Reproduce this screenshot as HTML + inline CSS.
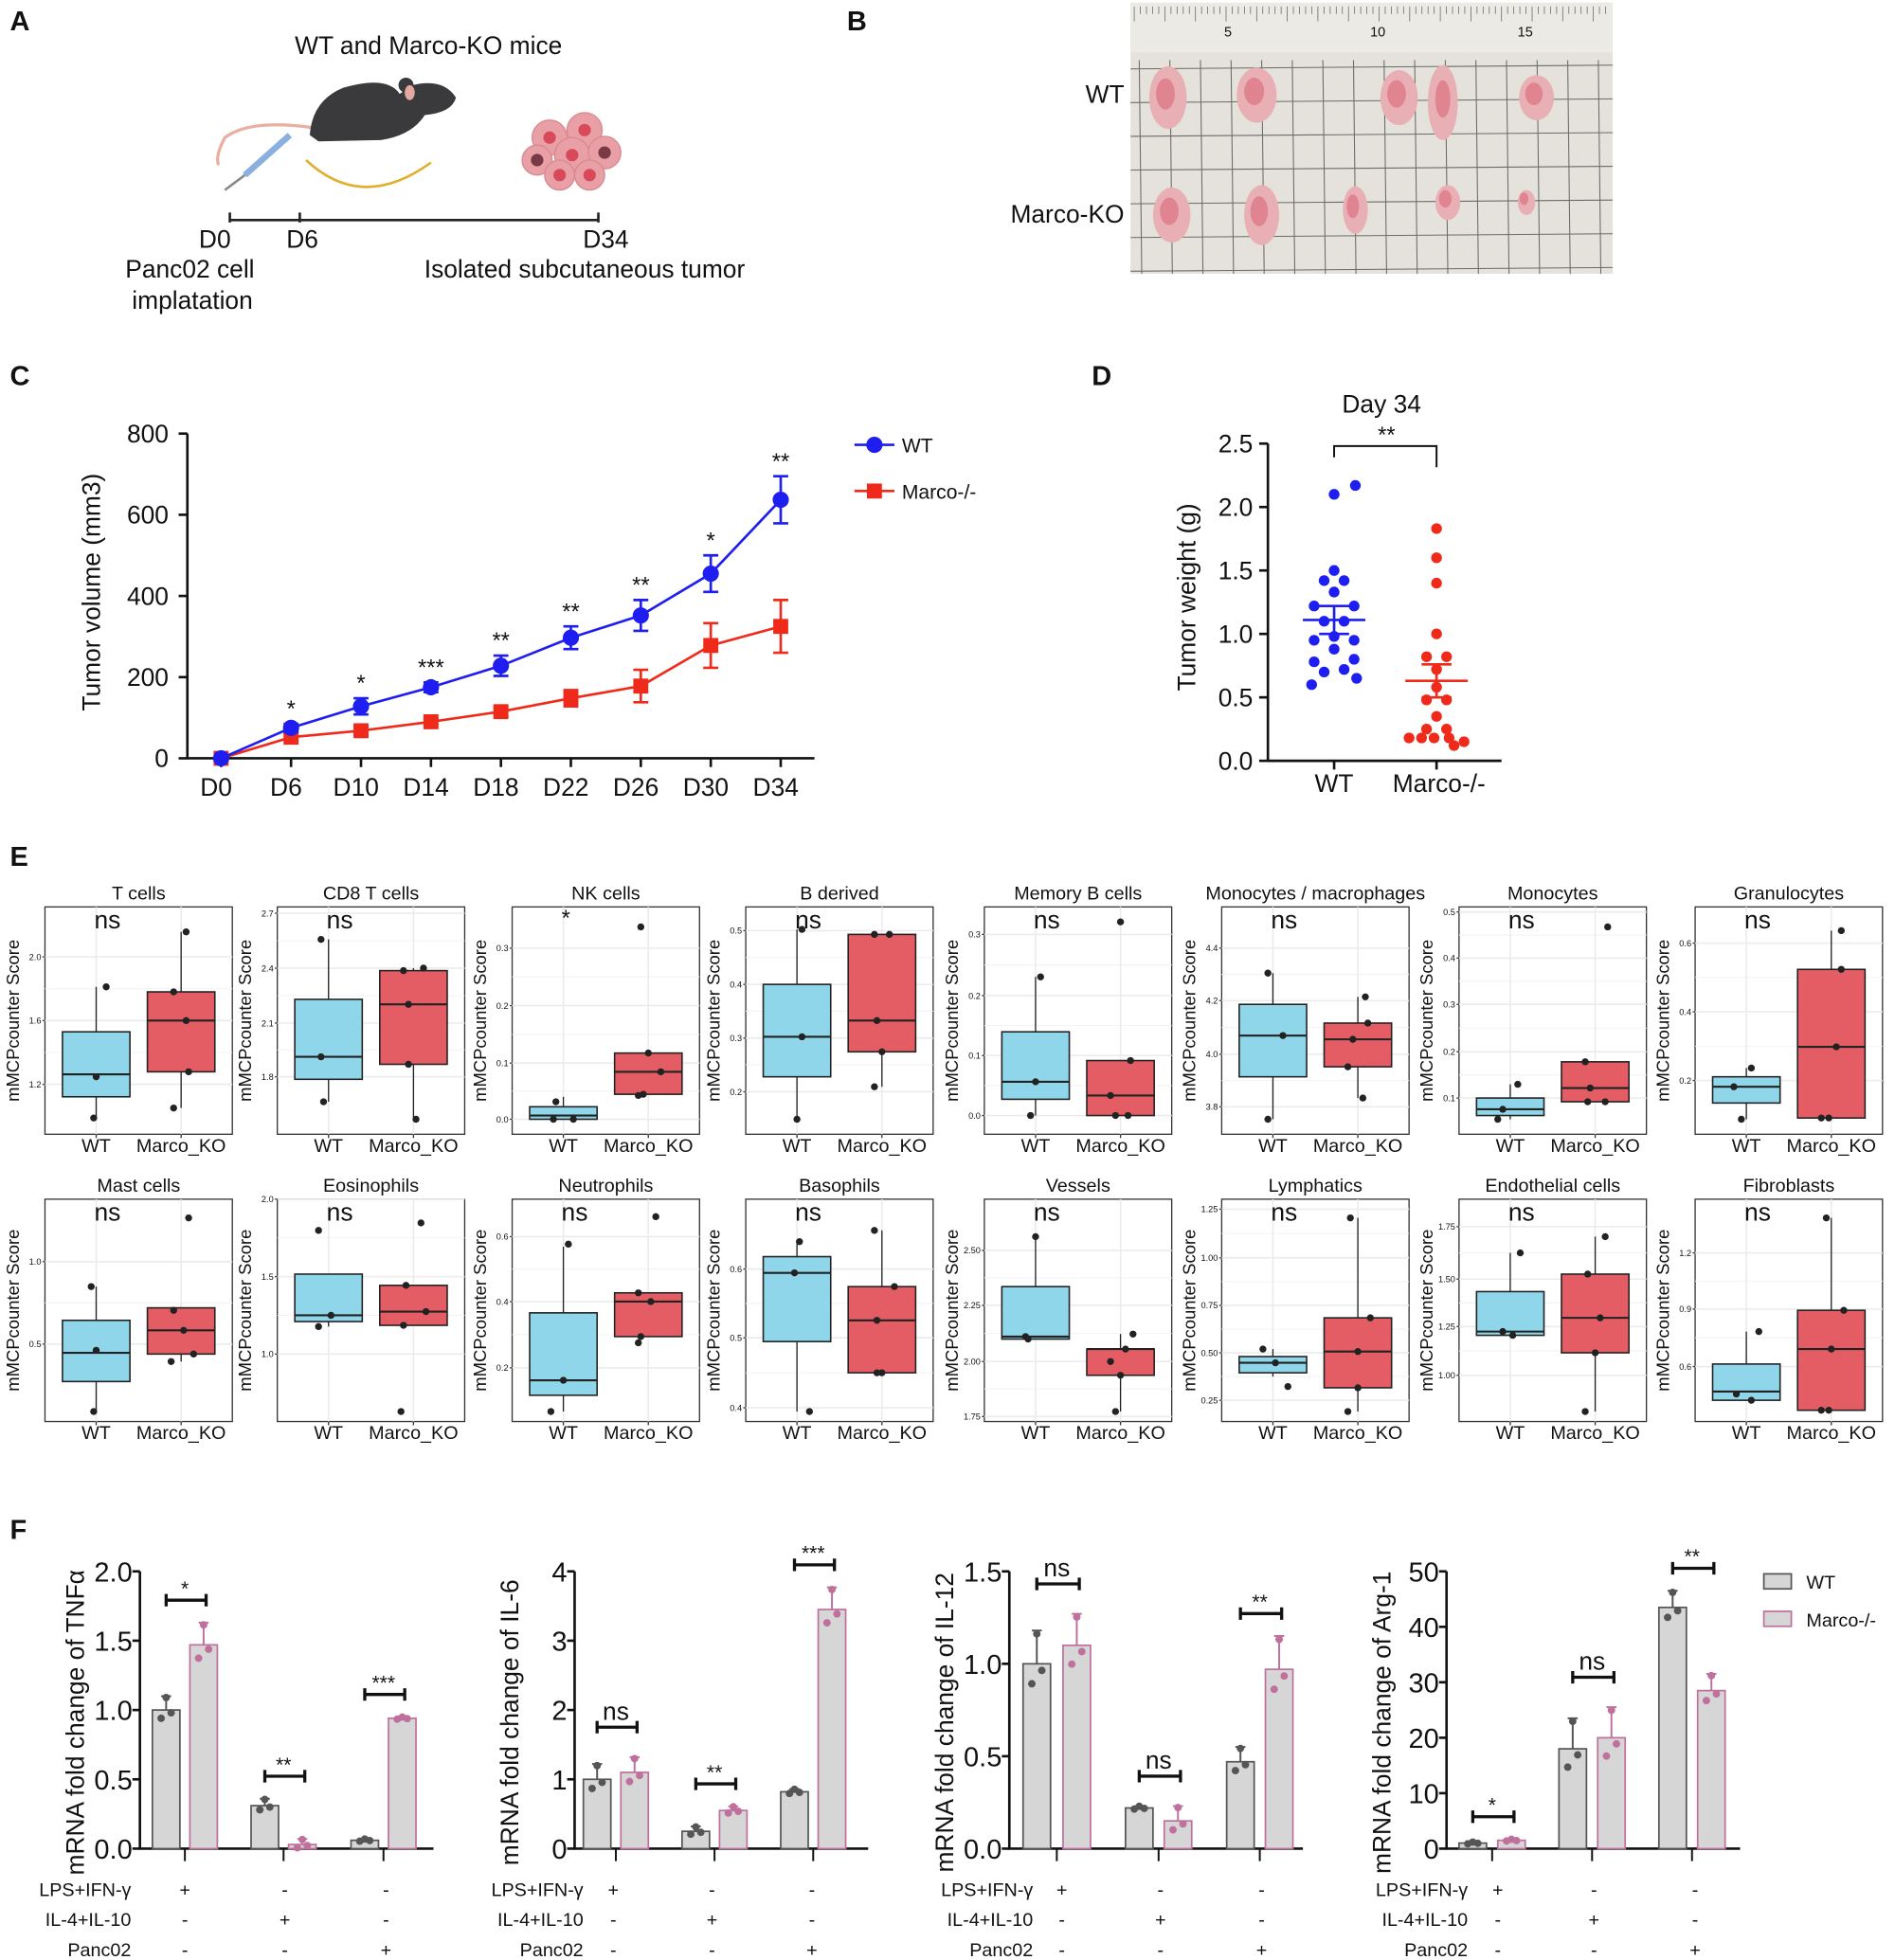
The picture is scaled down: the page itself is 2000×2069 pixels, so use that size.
<!DOCTYPE html>
<html><head><meta charset="utf-8"><style>
html,body{margin:0;padding:0;background:#fff}
svg{display:block}
text{font-family:"Liberation Sans Narrow","Liberation Sans",sans-serif;fill:#111}
</style></head><body>
<svg id="s" width="2000" height="2069" viewBox="0 0 1517 1569" xmlns="http://www.w3.org/2000/svg">
<rect width="1517" height="1569" fill="#fff"/>
<!-- Panel labels -->
<g font-weight="bold" style="font-family:'Liberation Sans',sans-serif" font-size="22">
<text x="8" y="24">A</text><text x="678" y="24">B</text><text x="8" y="308">C</text><text x="874" y="308">D</text><text x="8" y="693">E</text><text x="8" y="1232">F</text>
</g>
<!-- Panel A -->
<text x="343" y="43" font-size="20" text-anchor="middle">WT and Marco-KO mice</text>
<path d="M250 102 Q200 95 180 110 Q172 125 175 132" stroke="#e8b0a0" stroke-width="2.5" fill="none"/>
<path d="M248 108 Q250 80 275 70 Q310 60 320 75 L330 68 Q355 62 365 78 Q362 90 340 92 Q330 108 305 112 L255 113 Z" fill="#3a3a3c"/>
<circle cx="325" cy="68" r="6" fill="#3a3a3c"/><ellipse cx="328" cy="74" rx="4" ry="6" fill="#e3a9a0"/>
<path d="M232 108 L196 140" stroke="#8ab0e0" stroke-width="5"/><path d="M196 140 L180 152" stroke="#888" stroke-width="2"/>
<path d="M245 128 Q290 170 345 130" stroke="#e0b030" stroke-width="2" fill="none"/>
<g fill="#e8a0a6" stroke="#d88890"><circle cx="440" cy="110" r="14"/><circle cx="468" cy="104" r="14"/><circle cx="458" cy="124" r="14"/><circle cx="484" cy="122" r="13"/><circle cx="430" cy="128" r="12"/><circle cx="448" cy="140" r="12"/><circle cx="472" cy="140" r="12"/></g>
<g fill="#d84a5a"><circle cx="440" cy="110" r="5"/><circle cx="468" cy="104" r="5"/><circle cx="458" cy="124" r="5"/><circle cx="448" cy="140" r="5"/><circle cx="472" cy="140" r="5"/></g>
<circle cx="484" cy="122" r="5" fill="#7a3a44"/><circle cx="430" cy="128" r="5" fill="#7a3a44"/>
<path d="M184 170 V178 M184 176 H479 M240 170 V178 M479 170 V178" stroke="#222" stroke-width="2"/>
<g font-size="20"><text x="172" y="198" text-anchor="middle">D0</text><text x="242" y="198" text-anchor="middle">D6</text><text x="485" y="198" text-anchor="middle">D34</text>
<text x="152" y="222" text-anchor="middle">Panc02 cell</text><text x="154" y="247" text-anchor="middle">implatation</text><text x="468" y="222" text-anchor="middle">Isolated subcutaneous tumor</text></g>
<!-- Panel B photo -->
<rect x="905" y="2" width="386" height="217" fill="#e4e2da"/>
<rect x="905" y="2" width="386" height="40" fill="#eceae4"/>
<g id="grid" stroke="#6a6a6a" stroke-width="0.8"></g>
<g font-size="20"><text x="900" y="82" text-anchor="end">WT</text><text x="900" y="178" text-anchor="end">Marco-KO</text></g>
<g id="tum"></g>
<!-- C -->
<g id="C"></g><g id="D"></g><g id="E"></g><g id="F"></g>
</svg>
<script>
const NS="http://www.w3.org/2000/svg";
function el(p,t,a,txt){const e=document.createElementNS(NS,t);for(const k in a)e.setAttribute(k,a[k]);if(txt!==undefined)e.textContent=txt;p.appendChild(e);return e;}
const S=document.getElementById('s');
// grid B
const G=document.getElementById('grid');
for(let x=912;x<1291;x+=24.5)el(G,'line',{x1:x,y1:48,x2:x+2,y2:219});
for(let y=55;y<219;y+=27)el(G,'line',{x1:905,y1:y,x2:1291,y2:y-3});
for(let x=908;x<1290;x+=4.9)el(G,'line',{x1:x,y1:5,x2:x,y2:(Math.round((x-908)/4.9)%5==0)?17:11,'stroke-width':0.6});
[[983,'5'],[1103,'10'],[1221,'15']].forEach(a=>el(G,'text',{x:a[0],y:29,'font-size':11,'text-anchor':'middle',stroke:'none'},a[1]));
const T=document.getElementById('tum');
[[935,78,15,25],[1006,76,16,22],[1083,82,12,30],[1120,78,15,22],[1230,78,14,18],[938,172,15,22],[1010,172,14,24],[1085,168,10,19],[1159,162,10,14],[1222,162,7,10]].forEach(t=>{el(T,'ellipse',{cx:t[0],cy:t[1],rx:t[2],ry:t[3],fill:'#e8b0b4'});el(T,'ellipse',{cx:t[0]-2,cy:t[1]-3,rx:t[2]*0.5,ry:t[3]*0.5,fill:'#d86878',opacity:0.6});});
// fix tumor x positions
T.children[4].setAttribute('cx',1155);T.children[5].setAttribute('cx',1155);
// ---------- C -------------
const C=document.getElementById('C');
el(C,'path',{d:'M150 347 V607 H652',stroke:'#111','stroke-width':2,fill:'none'});
[0,200,400,600,800].forEach(v=>{const y=607-v*0.325;el(C,'line',{x1:143,y1:y,x2:150,y2:y,stroke:'#111','stroke-width':2});el(C,'text',{x:135,y:y+7,'font-size':20,'text-anchor':'end'},v);});
const xs=[177,233,289,345,401,457,513,569,625],labs=['D0','D6','D10','D14','D18','D22','D26','D30','D34'];
xs.forEach((x,i)=>{el(C,'line',{x1:x,y1:607,x2:x,y2:614,stroke:'#111','stroke-width':2});el(C,'text',{x:x-4,y:637,'font-size':20,'text-anchor':'middle'},labs[i]);});
el(C,'text',{x:0,y:0,'font-size':20,'text-anchor':'middle',transform:'translate(80 474) rotate(-90)'},'Tumor volume (mm3)');
const wt=[0,75,128,175,228,297,352,455,637],we=[0,10,20,12,25,28,38,45,58],ko=[0,52,68,90,115,148,178,278,325],ke=[0,8,10,8,12,20,40,55,65];
const yv=v=>607-v*0.325;
function series(vals,err,col,sq){el(C,'polyline',{points:vals.map((v,i)=>xs[i]+','+yv(v)).join(' '),fill:'none',stroke:col,'stroke-width':2});
vals.forEach((v,i)=>{if(err[i]){el(C,'path',{d:`M${xs[i]} ${yv(v+err[i])}V${yv(v-err[i])}M${xs[i]-6} ${yv(v+err[i])}h12M${xs[i]-6} ${yv(v-err[i])}h12`,stroke:col,'stroke-width':2});}
if(sq)el(C,'rect',{x:xs[i]-6,y:yv(v)-6,width:12,height:12,fill:col});else el(C,'circle',{cx:xs[i],cy:yv(v),r:6.5,fill:col});});}
series(ko,ke,'#f02a1a',true);series(wt,we,'#1e1ef0',false);
['','*','*','***','**','**','**','*','**'].forEach((s,i)=>{if(s)el(C,'text',{x:xs[i],y:yv(wt[i]+we[i])-6,'font-size':18,'text-anchor':'middle'},s);});
el(C,'line',{x1:684,y1:356,x2:716,y2:356,stroke:'#1e1ef0','stroke-width':2});el(C,'circle',{cx:700,cy:356,r:6.5,fill:'#1e1ef0'});el(C,'text',{x:722,y:362,'font-size':16},'WT');
el(C,'line',{x1:684,y1:393,x2:716,y2:393,stroke:'#f02a1a','stroke-width':2});el(C,'rect',{x:694,y:387,width:12,height:12,fill:'#f02a1a'});el(C,'text',{x:722,y:399,'font-size':16},'Marco-/-');
// ---------- D -------------
const D=document.getElementById('D');
el(D,'path',{d:'M1015 355 V609 H1202',stroke:'#111','stroke-width':2,fill:'none'});
const yd=v=>609-v*101.6;
[0,0.5,1,1.5,2,2.5].forEach(v=>{el(D,'line',{x1:1008,y1:yd(v),x2:1015,y2:yd(v),stroke:'#111','stroke-width':2});el(D,'text',{x:1003,y:yd(v)+7,'font-size':20,'text-anchor':'end'},v.toFixed(1));});
el(D,'text',{x:0,y:0,'font-size':20,'text-anchor':'middle',transform:'translate(957 478) rotate(-90)'},'Tumor weight (g)');
el(D,'text',{x:1106,y:330,'font-size':20,'text-anchor':'middle'},'Day 34');
el(D,'path',{d:'M1068 366 V357 H1150 V374',stroke:'#111','stroke-width':1.5,fill:'none'});el(D,'text',{x:1110,y:354,'font-size':18,'text-anchor':'middle'},'**');
[[1068,1078],[1150,1150]].forEach(()=>{});
el(D,'line',{x1:1068,y1:609,x2:1068,y2:616,stroke:'#111','stroke-width':2});el(D,'line',{x1:1150,y1:609,x2:1150,y2:616,stroke:'#111','stroke-width':2});
el(D,'text',{x:1068,y:634,'font-size':20,'text-anchor':'middle'},'WT');el(D,'text',{x:1152,y:634,'font-size':20,'text-anchor':'middle'},'Marco-/-');
const wd=[[1085,2.17],[1068,2.1],[1068,1.5],[1060,1.42],[1076,1.42],[1068,1.33],[1052,1.22],[1084,1.22],[1060,1.1],[1076,1.1],[1052,0.95],[1084,0.95],[1068,0.88],[1052,0.78],[1084,0.8],[1060,0.7],[1076,0.72],[1050,0.6],[1086,0.65],[1068,0.98]];
wd.forEach(p=>el(D,'circle',{cx:p[0],cy:yd(p[1]),r:4.3,fill:'#1e1ef0'}));
const kd=[[1150,1.83],[1150,1.6],[1150,1.4],[1150,1.0],[1142,0.82],[1158,0.82],[1150,0.72],[1150,0.58],[1142,0.48],[1158,0.48],[1150,0.35],[1142,0.25],[1158,0.25],[1128,0.18],[1138,0.18],[1148,0.18],[1160,0.18],[1172,0.15],[1164,0.12]];
kd.forEach(p=>el(D,'circle',{cx:p[0],cy:yd(p[1]),r:4.3,fill:'#f02a1a'}));
function meanbar(x,m,e,c){el(D,'path',{d:`M${x-25} ${yd(m)}h50M${x} ${yd(m+e)}V${yd(m-e)}M${x-12} ${yd(m+e)}h24M${x-12} ${yd(m-e)}h24`,stroke:c,'stroke-width':2});}
meanbar(1068,1.11,0.11,'#1e1ef0');meanbar(1150,0.63,0.13,'#f02a1a');
// ---------- E -------------
const E=document.getElementById('E');
const fx=[36,222,410,597,788,978,1168,1357];
const r1={top:726,bot:908},r2={top:960,bot:1138};
const data1=[
['T cells','ns',[[2.0,766],[1.6,817],[1.2,868]],[826,860,878,790,895],[[8,790],[0,862],[-2,895]],[794,817,858,746,887],[[4,746],[-6,794],[4,817],[6,858],[-6,887]]],
['CD8 T cells','ns',[[2.7,731],[2.4,775],[2.1,819],[1.8,862]],[800,846,864,752,882],[[-6,752],[-6,846],[-4,882]],[777,804,852,775,896],[[-8,777],[8,775],[-4,804],[-4,852],[2,896]]],
['NK cells','*',[[0.3,759],[0.2,805],[0.1,851],[0.0,896]],[886,893,896,878,896],[[-6,882],[-8,896],[8,896]],[843,858,876,843,876],[[-6,742],[0,843],[10,858],[-4,876],[-8,877]]],
['B derived','ns',[[0.5,745],[0.4,788],[0.3,831],[0.2,874]],[788,830,862,744,896],[[4,744],[4,830],[0,896]],[748,817,842,748,870],[[-6,748],[6,748],[-4,817],[0,842],[-6,870]]],
['Memory B cells','ns',[[0.3,748],[0.2,797],[0.1,845],[0.0,893]],[826,866,880,782,893],[[4,782],[0,866],[-4,893]],[849,877,893,849,893],[[0,738],[8,849],[-8,877],[-4,893],[6,893]]],
['Monocytes / macrophages','ns',[[4.4,759],[4.2,801],[4.0,844],[3.8,886]],[804,829,862,779,896],[[-4,779],[8,829],[-4,896]],[819,832,854,798,879],[[6,798],[8,819],[-4,832],[-8,854],[4,879]]],
['Monocytes','ns',[[0.5,730],[0.4,767],[0.3,804],[0.2,842],[0.1,879]],[879,888,893,868,896],[[6,868],[-6,888],[-10,896]],[850,871,882,850,882],[[10,742],[-8,850],[-4,871],[-6,882],[8,882]]],
['Granulocytes','ns',[[0.6,755],[0.4,810],[0.2,865]],[862,870,883,855,896],[[4,855],[-10,870],[-4,896]],[776,838,895,745,895],[[8,745],[8,776],[4,838],[-8,895],[-2,895]]]];
const data2=[
['Mast cells','ns',[[1.0,1010],[0.5,1076]],[1057,1083,1106,1030,1130],[[-4,1030],[0,1081],[-2,1130]],[1047,1065,1084,1047,1090],[[6,975],[-6,1049],[2,1065],[10,1084],[-8,1090]]],
['Eosinophils','ns',[[2.0,960],[1.5,1022],[1.0,1084]],[1020,1053,1058,1020,1062],[[-8,985],[2,1053],[-8,1062]],[1029,1050,1061,1029,1061],[[6,979],[-6,1029],[10,1050],[-8,1061],[-10,1130]]],
['Neutrophils','ns',[[0.6,990],[0.4,1042],[0.2,1095]],[1051,1105,1117,998,1130],[[4,996],[0,1105],[-10,1130]],[1035,1042,1070,1035,1070],[[6,974],[-8,1035],[2,1042],[-6,1070],[-8,1075]]],
['Basophils','ns',[[0.6,1016],[0.5,1071],[0.4,1127]],[1006,1019,1074,994,1130],[[2,994],[-2,1019],[10,1130]],[1030,1057,1099,985,1099],[[-6,985],[10,1030],[-4,1057],[0,1099],[-4,1099]]],
['Vessels','ns',[[2.50,1001],[2.25,1045],[2.00,1090],[1.75,1134]],[1030,1070,1072,990,1072],[[0,990],[-8,1070],[-6,1072]],[1080,1080,1101,1068,1130],[[10,1068],[4,1080],[-8,1090],[0,1101],[-4,1130]]],
['Lymphatics','ns',[[1.25,968],[1.00,1007],[0.75,1045],[0.50,1083],[0.25,1121]],[1086,1091,1099,1080,1102],[[-8,1080],[2,1091],[12,1110]],[1055,1082,1111,975,1130],[[-6,975],[10,1055],[0,1082],[0,1111],[-8,1130]]],
['Endothelial cells','ns',[[1.75,982],[1.50,1024],[1.25,1062],[1.00,1101]],[1034,1066,1069,1003,1069],[[8,1003],[-6,1066],[2,1069]],[1020,1055,1083,990,1130],[[8,990],[-6,1020],[4,1055],[0,1083],[-8,1130]]],
['Fibroblasts','ns',[[1.2,1003],[0.9,1048],[0.6,1094]],[1092,1114,1121,1066,1121],[[10,1066],[-8,1116],[4,1121]],[1049,1080,1129,975,1129],[[-4,975],[10,1049],[0,1080],[-8,1129],[-2,1129]]]];
function fmt(v,ref){const s=String(ref[0]);return v.toFixed(ref.some(t=>String(t[0]).includes('.')&&String(t[0]).split('.')[1].length==2)?2:1);}
function panel(x0,r,d){const w=150,top=r.top,bot=r.bot,xw=x0+41,xk=x0+109;
el(E,'rect',{x:x0,y:top,width:w,height:bot-top,fill:'#fff',stroke:'#333','stroke-width':1});
// grid
d[2].forEach(t=>el(E,'line',{x1:x0,y1:t[1],x2:x0+w,y2:t[1],stroke:'#ebebeb','stroke-width':1.2}));
for(let i=0;i<d[2].length-1;i++){const m=(d[2][i][1]+d[2][i+1][1])/2;el(E,'line',{x1:x0,y1:m,x2:x0+w,y2:m,stroke:'#f3f3f3','stroke-width':0.8});}
[xw,xk].forEach(x=>el(E,'line',{x1:x,y1:top,x2:x,y2:bot,stroke:'#ebebeb','stroke-width':1.2}));
const two=d[2].some(t=>t[0]%0.05==0&&(t[0]*100)%10!=0)||['Vessels','Lymphatics','Endothelial cells'].includes(d[0]);
d[2].forEach(t=>{el(E,'text',{x:x0-3,y:t[1]+2.5,'font-size':7,'text-anchor':'end',fill:'#444'},t[0].toFixed(two?2:1));el(E,'line',{x1:x0-2,y1:t[1],x2:x0,y2:t[1],stroke:'#444'});});
function box(x,b,col,pts){el(E,'line',{x1:x,y1:b[3],x2:x,y2:b[4],stroke:'#222','stroke-width':1});
el(E,'rect',{x:x-27,y:b[0],width:54,height:Math.max(b[2]-b[0],1),fill:col,stroke:'#222','stroke-width':1.2});
el(E,'line',{x1:x-27,y1:b[1],x2:x+27,y2:b[1],stroke:'#222','stroke-width':1.6});
pts.forEach(p=>el(E,'circle',{cx:x+p[0],cy:p[1],r:2.8,fill:'#222'}));}
box(xw,d[3],'#8fd6ea',d[4]);box(xk,d[5],'#e45d65',d[6]);
[xw,xk].forEach(x=>el(E,'line',{x1:x,y1:bot,x2:x,y2:bot+3,stroke:'#333'}));
el(E,'text',{x:xw,y:bot+14,'font-size':15,'text-anchor':'middle',fill:'#333'},'WT');
el(E,'text',{x:xk,y:bot+14,'font-size':15,'text-anchor':'middle',fill:'#333'},'Marco_KO');
el(E,'text',{x:x0+w/2,y:top-6,'font-size':15,'text-anchor':'middle'},d[0]);
if(d[1]=='ns')el(E,'text',{x:x0+50,y:top+17,'font-size':20,'text-anchor':'middle'},'ns');
else el(E,'text',{x:x0+43,y:top+15,'font-size':18,'text-anchor':'middle'},'*');
el(E,'text',{x:0,y:0,'font-size':14,'text-anchor':'middle',fill:'#222',style:"font-family:'Liberation Sans',sans-serif",transform:`translate(${x0-21} ${(top+bot)/2}) rotate(-90)`},'mMCPcounter Score');}
data1.forEach((d,i)=>panel(fx[i],r1,d));data2.forEach((d,i)=>panel(fx[i],r2,d));
// ---------- F -------------
const F=document.getElementById('F');
const WTc='#555',KOc='#c0709c';
function bar(ax,ymax,ticks,ylab,groups,vals,errs,sig,rowx,cen){
 const y0=1480,yt=1258,sc=(y0-yt)/ymax,Y=v=>y0-v*sc, xe=ax+235;
 el(F,'path',{d:`M${ax} ${yt} V${y0} H${xe}`,stroke:'#111','stroke-width':2,fill:'none'});
 ticks.forEach(t=>{el(F,'line',{x1:ax-6,y1:Y(t[0]),x2:ax,y2:Y(t[0]),stroke:'#111','stroke-width':2});el(F,'text',{x:ax-6,y:Y(t[0])+8,'font-size':22,'text-anchor':'end'},t[1]);});
 el(F,'text',{x:0,y:0,'font-size':20,'text-anchor':'middle',style:"font-family:'Liberation Sans',sans-serif",transform:`translate(${ax-45} ${(yt+y0)/2+10}) rotate(-90)`},ylab);
 groups.forEach((g,i)=>{const c=[g[0],g[1]];const m=(g[0]+g[1])/2;el(F,'line',{x1:m,y1:y0,x2:m,y2:y0+10,stroke:'#111','stroke-width':1.5});
  c.forEach((x,j)=>{const v=vals[i][j],e=errs[i][j],col=j?KOc:WTc;
   el(F,'rect',{x:x-11,y:Y(v),width:22,height:y0-Y(v),fill:'#d6d6d6',stroke:col,'stroke-width':1.3});
   el(F,'path',{d:`M${x} ${Y(v)}V${Y(v+e)}M${x-4} ${Y(v+e)}h8`,stroke:col,'stroke-width':1.5});
   [-4,0,4].forEach((o,k)=>el(F,'circle',{cx:x+o,cy:Y(v+[-0.6,0.9,-0.2][k]*e),r:3,fill:col}));});
  const by=Y(Math.max(vals[i][0]+errs[i][0],vals[i][1]+errs[i][1]))-18-(sig[i]=='ns'?6:0);
  el(F,'path',{d:`M${g[0]} ${by}H${g[1]+2}M${g[0]} ${by-5}v10M${g[1]+2} ${by-5}v10`,stroke:'#111','stroke-width':2.5});
  el(F,'text',{x:m,y:sig[i]=='ns'?by-6:by-4,'font-size':sig[i]=='ns'?20:16,'text-anchor':'middle'},sig[i]);
 });
 const rows=[['LPS+IFN-γ',['+','-','-']],['IL-4+IL-10',['-','+','-']],['Panc02',['-','-','+']]];
 rows.forEach((r,k)=>{const y=1518+k*24;el(F,'text',{x:rowx,y:y,'font-size':15,'text-anchor':'end'},r[0]);r[1].forEach((s,i)=>el(F,'text',{x:cen[i],y:y,'font-size':15,'text-anchor':'middle'},s));});
}
bar(112,2.0,[[0,'0.0'],[0.5,'0.5'],[1,'1.0'],[1.5,'1.5'],[2,'2.0']],'mRNA fold change of TNFα',[[133,163],[212,242],[292,322]],[[1,1.47],[0.31,0.03],[0.06,0.94]],[[0.1,0.16],[0.05,0.04],[0.01,0.01]],['*','**','***'],105,[148,228,309]);
bar(460,4,[[0,'0'],[1,'1'],[2,'2'],[3,'3'],[4,'4']],'mRNA fold change of IL-6',[[478,508],[557,587],[636,666]],[[1,1.1],[0.25,0.55],[0.82,3.45]],[[0.22,0.22],[0.07,0.06],[0.04,0.32]],['ns','**','***'],467,[491,570,650]);
bar(808,1.5,[[0,'0.0'],[0.5,'0.5'],[1,'1.0'],[1.5,'1.5']],'mRNA fold change of IL-12',[[830,862],[912,943],[993,1024]],[[1,1.1],[0.22,0.15],[0.47,0.97]],[[0.18,0.17],[0.01,0.08],[0.08,0.18]],['ns','ns','**'],827,[850,929,1010]);
bar(1158,50,[[0,'0'],[10,'10'],[20,'20'],[30,'30'],[40,'40'],[50,'50']],'mRNA fold change of Arg-1',[[1179,1210],[1259,1290],[1339,1370]],[[1,1.5],[18,20],[43.5,28.5]],[[0.2,0.2],[5.5,5.5],[3,3]],['*','ns','**'],1175,[1199,1276,1357]);
el(F,'rect',{x:1412,y:1260,width:22,height:12,fill:'#d6d6d6',stroke:WTc,'stroke-width':1.3});el(F,'text',{x:1446,y:1272,'font-size':15},'WT');
el(F,'rect',{x:1412,y:1290,width:22,height:12,fill:'#d6d6d6',stroke:KOc,'stroke-width':1.3});el(F,'text',{x:1446,y:1302,'font-size':15},'Marco-/-');
</script>
</body></html>
